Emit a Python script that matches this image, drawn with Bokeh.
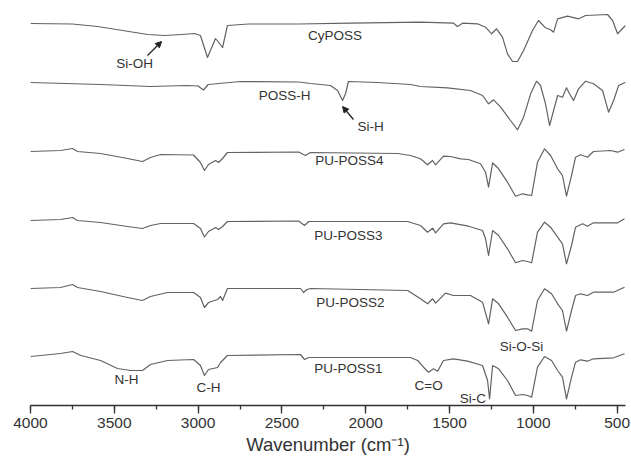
from bokeh.plotting import figure
from bokeh.models import Range1d, SingleIntervalTicker, Label, Arrow, NormalHead
from bokeh.embed import file_html
from bokeh.resources import INLINE

# ---- data: wavenumber (cm-1) and offset transmittance (a.u.) ----
cyposs_wn = [4000, 3750, 3600, 3450, 3300, 3200, 3100, 3021, 2986, 2944, 2896, 2854, 2825, 2700, 2400, 2091,
             1673, 1476, 1452, 1422, 1333, 1285, 1249, 1219, 1184, 1154, 1124, 1094, 1058, 1005, 969, 927,
             897, 879, 855, 796, 730, 688, 557, 527, 497, 479, 450]
cyposs_t = [382, 381.5, 379, 375, 371, 370, 371, 372, 370, 348, 367, 358, 380, 381.5, 381.5, 382.3,
            383.3, 382.3, 379, 382.3, 381.7, 378.3, 371.7, 376.7, 368.3, 351.7, 344, 344, 355, 375, 385, 377.7,
            375.7, 373.3, 386.7, 389.3, 386.7, 390, 391, 385, 371.7, 375, 380]

possh_wn = [4000, 3582, 3284, 3063, 3000, 2968, 2940, 2747, 2400, 2329, 2210, 2168, 2138, 2120, 2103, 1930,
            1733, 1673, 1512, 1375, 1303, 1267, 1237, 1195, 1136, 1094, 1058, 1016, 981, 957, 927, 903, 879,
            855, 826, 802, 784, 760, 730, 688, 641, 587, 551, 521, 491, 450]
possh_t = [323, 321, 319, 320, 319.5, 315.5, 321, 324, 323.5, 322, 320, 315, 305, 312, 324, 323,
           321, 319, 317.7, 315, 310, 301.7, 305.7, 298.3, 285, 275.7, 288.3, 311.7, 324.3, 320, 301.7, 280, 295,
           310, 308.3, 317.7, 311.7, 305, 316.7, 324.3, 321.7, 315, 293.3, 305, 320, 323.3]

pu4_wn = [4000, 3821, 3749, 3720, 3582, 3421, 3332, 3284, 3224, 3027, 2986, 2962, 2938, 2896, 2878, 2854, 2825,
          2400, 2360, 2330, 1810, 1733, 1673, 1631, 1601, 1583, 1536, 1494, 1434, 1387, 1315, 1285, 1267,
          1243, 1207, 1154, 1106, 1064, 1034, 1010, 975, 933, 897, 855, 826, 802, 772, 748, 718, 677,
          641, 539, 497, 456]
pu4_t = [254, 255, 257, 254, 252, 247, 244, 248, 251, 250.5, 243, 235, 241, 245, 243, 247, 253,
         253.5, 250, 253, 252, 250, 246.7, 240.7, 245, 240.7, 249.3, 249, 246.7, 246, 241.7, 233.3, 218.3,
         242.7, 236.7, 223.3, 209.3, 211.7, 210.7, 210, 243.3, 256.7, 250, 236.7, 230, 209.3, 230, 248.3, 250.7, 248.3,
         254, 255, 253.3, 256]

pu3_wn = [4000, 3821, 3749, 3720, 3582, 3421, 3332, 3284, 3224, 3027, 2986, 2962, 2938, 2896, 2878, 2854, 2825,
          2400, 2365, 2340, 1750, 1673, 1631, 1601, 1583, 1536, 1494, 1387, 1303, 1285, 1267, 1243, 1207,
          1154, 1106, 1064, 1034, 1010, 975, 933, 897, 855, 826, 802, 772, 748, 706, 677, 641, 539, 497, 456]
pu3_t = [185, 186, 188, 185, 183, 179, 177, 180, 182, 182, 177, 168.5, 174, 178, 176, 179, 184,
         184.5, 180, 184, 184, 180, 173.3, 177.3, 172.7, 181.7, 182.7, 179.3, 175, 166.7, 150, 175, 170,
         156.7, 142.7, 145, 144, 142.7, 173.3, 183.3, 178.3, 168.3, 161.7, 141.7, 160, 178.3, 181.7, 179.3,
         182.7, 182.7, 182.7, 186.7]

pu2_wn = [4000, 3821, 3749, 3720, 3582, 3421, 3332, 3284, 3183, 3027, 2986, 2962, 2938, 2884, 2866, 2854, 2825,
          2389, 2371, 2350, 2329, 1750, 1673, 1631, 1601, 1583, 1524, 1476, 1375, 1303, 1267, 1243, 1207,
          1154, 1106, 1064, 1034, 1010, 975, 933, 891, 855, 826, 802, 772, 748, 718, 677, 641, 521, 456]
pu2_t = [117, 118, 121, 118, 114, 108, 105, 109, 113, 113, 108, 98, 103, 106, 109, 105, 117,
         117, 113, 116, 117, 115, 106.7, 101.7, 106.7, 102.3, 112.3, 110, 110, 103.3, 81.7, 106.7, 101.7,
         88.3, 75, 76.7, 76.7, 74.3, 105, 116.7, 111.7, 101.7, 95, 74.3, 95, 110, 111.7, 110, 113.3, 113.3, 118.3]

pu1_wn = [4000, 3821, 3749, 3700, 3582, 3481, 3403, 3332, 3284, 3183, 3027, 2986, 2962, 2938, 2884, 2866, 2825,
          2389, 2365, 2340, 1733, 1690, 1655, 1625, 1595, 1571, 1536, 1476, 1393, 1303, 1273, 1261, 1243,
          1207, 1154, 1106, 1064, 1034, 1010, 975, 933, 891, 855, 826, 802, 772, 748, 718, 677, 641, 521, 456]
pu1_t = [49, 52, 54, 50, 45, 37, 35, 35, 41, 45, 46, 40, 30, 36, 38, 43, 50,
         51, 46, 48, 48, 45, 38.3, 33.3, 36.7, 34.3, 45, 46.7, 44.3, 40, 25, 6.7, 40,
         36.7, 25, 10, 11, 10, 8.3, 38.3, 49, 45, 35, 28.3, 6.7, 28.3, 43.3, 45.7, 44.3, 46.7, 47.7, 51.7]

series = [(cyposs_wn, cyposs_t), (possh_wn, possh_t), (pu4_wn, pu4_t),
          (pu3_wn, pu3_t), (pu2_wn, pu2_t), (pu1_wn, pu1_t)]

# text annotations: (text, wavenumber, transmittance)
labels = [("CyPOSS", 2183, 370), ("Si-OH", 3379, 342), ("POSS-H", 2484, 310), ("Si-H", 1971, 279.5),
          ("PU-POSS4", 2097, 245), ("PU-POSS3", 2103, 170), ("PU-POSS2", 2091, 103.5),
          ("PU-POSS1", 2103, 37), ("N-H", 3427, 26), ("C-H", 2938, 18.5), ("C=O", 1625, 20),
          ("Si-C", 1360, 7), ("Si-O-Si", 1070, 59.5)]
arrows = [(3302, 350, 3218, 364), (2073, 286, 2138, 299)]

FONT = "Liberation Sans"
TXT = "#333333"
LINE = "#626262"

p = figure(width=631, height=461, output_backend="svg", toolbar_location=None,
           x_range=Range1d(4000, 450), y_range=Range1d(0, 405),
           min_border_left=30, min_border_right=6, min_border_top=0, min_border_bottom=56)
p.outline_line_color = None
p.xgrid.visible = False
p.ygrid.visible = False
p.yaxis.visible = False
p.background_fill_color = "white"

for wn, t in series:
    p.line(wn, t, line_color=LINE, line_width=1.2, line_join="round")

ax = p.xaxis[0]
ax.ticker = SingleIntervalTicker(interval=500, num_minor_ticks=2)
ax.axis_line_color = TXT
ax.axis_line_width = 1.3
ax.major_tick_line_color = TXT
ax.major_tick_line_width = 1.3
ax.minor_tick_line_color = TXT
ax.minor_tick_line_width = 1.3
ax.major_tick_in = 0
ax.major_tick_out = 8
ax.minor_tick_in = 0
ax.minor_tick_out = 4
ax.major_label_text_font = FONT
ax.major_label_text_font_size = "15.5px"
ax.major_label_text_color = TXT
ax.major_label_standoff = 4
ax.axis_label = "Wavenumber (cm\u207b\u00b9)"
ax.axis_label_text_font = FONT
ax.axis_label_text_font_size = "18.5px"
ax.axis_label_text_font_style = "normal"
ax.axis_label_text_color = TXT
ax.axis_label_standoff = 3

for txt, x, y in labels:
    p.add_layout(Label(x=x, y=y, text=txt, text_font=FONT, text_font_size="13.5px",
                       text_color=TXT, text_align="center", text_baseline="middle"))

for x0, y0, x1, y1 in arrows:
    p.add_layout(Arrow(x_start=x0, y_start=y0, x_end=x1, y_end=y1, line_color="#222222", line_width=1.3,
                       end=NormalHead(size=6, fill_color="#222222", line_color="#222222")))

open("out.html", "w").write(file_html(p, INLINE))
